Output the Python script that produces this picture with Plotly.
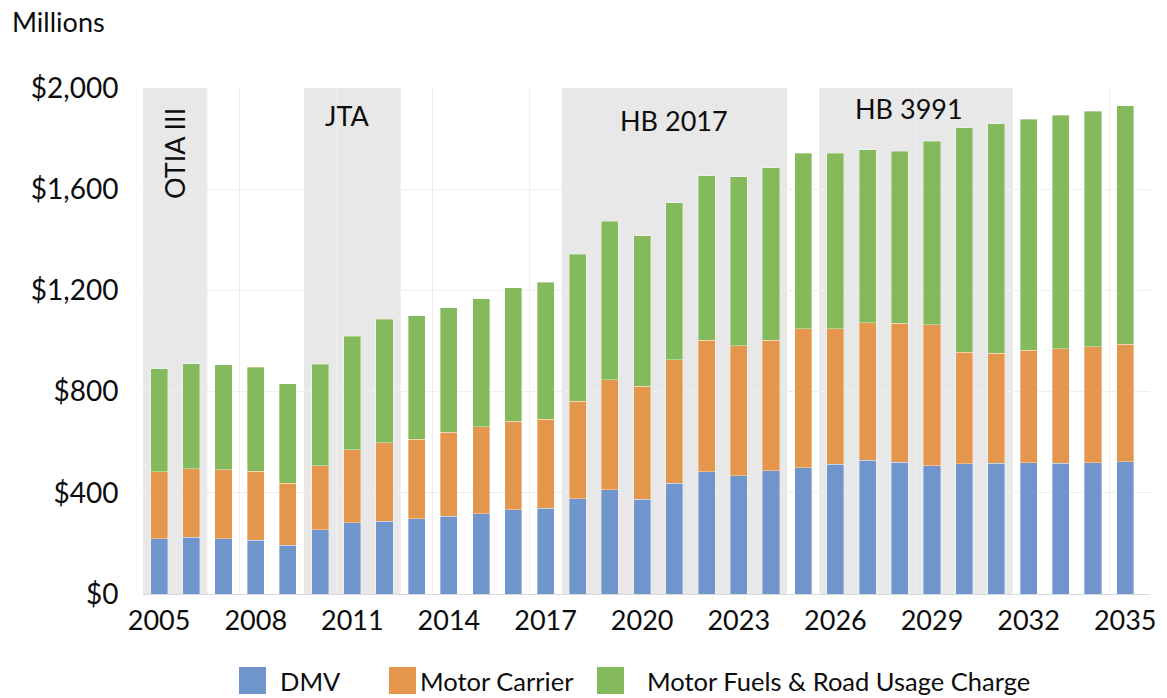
import plotly.graph_objects as go

years = list(range(2005, 2036))
dmv = [218, 224, 218, 213, 192, 254, 282, 287, 298, 308, 317, 333, 338, 376, 413, 374,
       437, 483, 467, 487, 500, 512, 528, 521, 507, 514, 516, 519, 517, 519, 523]
motor_carrier = [265, 271, 273, 273, 245, 252, 289, 311, 313, 332, 344, 350, 353, 385, 434, 448,
                 489, 519, 514, 516, 549, 537, 545, 549, 558, 441, 436, 444, 452, 458, 465]
motor_fuels = [407, 415, 415, 411, 395, 403, 448, 488, 488, 491, 507, 527, 541, 582, 626, 595,
               621, 652, 669, 682, 693, 693, 682, 681, 724, 888, 906, 914, 924, 932, 941]

series_names = ["DMV", "Motor Carrier", "Motor Fuels & Road Usage Charge"]
series_colors = ["#7094CC", "#E3964C", "#85BA5C"]

era_names = ["OTIA III", "JTA", "HB 2017", "HB 3991"]
era_start = [2005, 2010, 2018, 2026]
era_end = [2006, 2012, 2024, 2031]

y_ticks = [0, 400, 800, 1200, 1600, 2000]
y_tick_text = ["$0", "$400", "$800", "$1,200", "$1,600", "$2,000"]
x_ticks = list(range(2005, 2036, 3))

FONT = "Lato, 'Open Sans', sans-serif"
TXT = "#0D0D0D"

fig = go.Figure()
for name, vals, col in zip(series_names, [dmv, motor_carrier, motor_fuels], series_colors):
    fig.add_trace(go.Bar(x=years, y=vals, name=name,
                         marker=dict(color=col, line=dict(color="rgba(255,255,255,0.6)", width=0.6)),
                         width=0.53, showlegend=False))

shapes = []
for s, e in zip(era_start, era_end):
    shapes.append(dict(type="rect", xref="x", yref="y", x0=s - 0.5, x1=e + 0.5, y0=0, y1=2000,
                       fillcolor="#E8E8E8", line=dict(width=0), layer="below"))

annotations = [
    dict(text="OTIA III", x=2005.5, y=1740, xref="x", yref="y", textangle=-90, showarrow=False,
         font=dict(size=27, color=TXT, family=FONT)),
    dict(text="JTA", x=2010.85, y=1892, xref="x", yref="y", showarrow=False,
         font=dict(size=27, color=TXT, family=FONT)),
    dict(text="HB 2017", x=2021.0, y=1872, xref="x", yref="y", showarrow=False,
         font=dict(size=27, color=TXT, family=FONT)),
    dict(text="HB 3991", x=2028.3, y=1920, xref="x", yref="y", showarrow=False,
         font=dict(size=27, color=TXT, family=FONT)),
]

# page pixel -> paper coordinates (plot area spans x 143..1150, y 88..594)
W, H = 1007.0, 506.0
def px_x(p):
    return (p - 143) / W
def px_y(p):
    return (594 - p) / H

annotations.append(dict(text="Millions", x=px_x(10), y=px_y(21), xref="paper", yref="paper",
                        xanchor="left", yanchor="middle", showarrow=False,
                        font=dict(size=27, color=TXT, family=FONT)))

leg_sw = [239, 389, 597]
leg_tx = [278, 418, 645]
for name, col, sx, tx in zip(series_names, series_colors, leg_sw, leg_tx):
    shapes.append(dict(type="rect", xref="paper", yref="paper", x0=px_x(sx), x1=px_x(sx + 27),
                       y0=px_y(694), y1=px_y(667), fillcolor=col, line=dict(width=0)))
    annotations.append(dict(text=name, x=px_x(tx), y=px_y(681), xref="paper", yref="paper",
                            xanchor="left", yanchor="middle", showarrow=False,
                            font=dict(size=25.5, color=TXT, family=FONT)))

fig.update_layout(
    barmode="stack",
    width=1167, height=698,
    margin=dict(l=143, r=17, t=88, b=104),
    paper_bgcolor="white", plot_bgcolor="white",
    font=dict(family=FONT, size=27, color=TXT),
    shapes=shapes,
    annotations=annotations,
    showlegend=False,
    xaxis=dict(range=[2004.5, 2035.77], tickmode="array", tickvals=x_ticks,
               ticktext=[str(v) for v in x_ticks], showgrid=False, zeroline=False,
               showline=True, linecolor="#D9D9D9", linewidth=1, automargin=False,
               ticks="outside", ticklen=3, tickcolor="rgba(0,0,0,0)",
               tickfont=dict(size=27, family=FONT, color=TXT),
               minor=dict(tickmode="linear", tick0=2004.5, dtick=3, showgrid=True,
                          gridcolor="#EEEEEE", gridwidth=1, ticks="")),
    yaxis=dict(range=[0, 2000], tickmode="array", tickvals=y_ticks, ticktext=y_tick_text,
               showgrid=True, gridcolor="#EEEEEE", gridwidth=1, zeroline=False, automargin=False,
               ticks="outside", ticklen=18, tickcolor="rgba(0,0,0,0)",
               tickfont=dict(size=28, family=FONT, color=TXT)),
)

fig.write_html("out.html", config={"displayModeBar": False},
               post_script="document.body.style.margin='0';document.body.style.overflow='hidden';")
